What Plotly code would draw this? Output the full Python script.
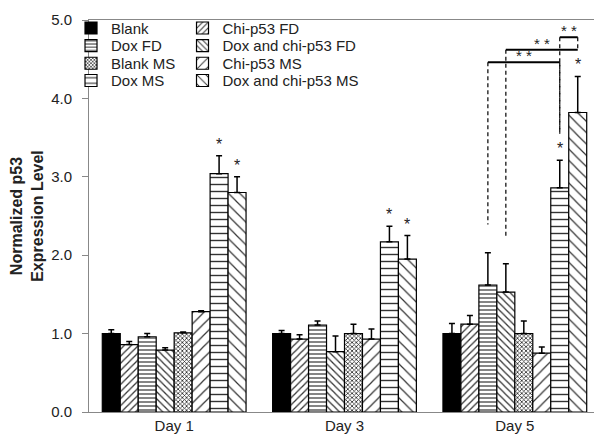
import plotly.graph_objects as go

days = ["Day 1", "Day 3", "Day 5"]
series_names = ["Blank", "Chi-p53 FD", "Dox FD", "Dox and chi-p53 FD",
                "Blank MS", "Chi-p53 MS", "Dox MS", "Dox and chi-p53 MS"]

blank = [1.00, 1.00, 1.00]
chi_fd = [0.86, 0.93, 1.12]
dox_fd = [0.96, 1.11, 1.62]
dox_chi_fd = [0.79, 0.77, 1.53]
blank_ms = [1.01, 1.00, 1.00]
chi_ms = [1.28, 0.93, 0.75]
dox_ms = [3.04, 2.17, 2.86]
dox_chi_ms = [2.80, 1.95, 3.82]

blank_err = [0.05, 0.04, 0.13]
chi_fd_err = [0.04, 0.055, 0.11]
dox_fd_err = [0.04, 0.05, 0.41]
dox_chi_fd_err = [0.03, 0.20, 0.36]
blank_ms_err = [0.01, 0.12, 0.16]
chi_ms_err = [0.01, 0.13, 0.08]
dox_ms_err = [0.23, 0.20, 0.35]
dox_chi_ms_err = [0.20, 0.30, 0.46]

values = [blank, chi_fd, dox_fd, dox_chi_fd, blank_ms, chi_ms, dox_ms, dox_chi_ms]
errors = [blank_err, chi_fd_err, dox_fd_err, dox_chi_fd_err,
          blank_ms_err, chi_ms_err, dox_ms_err, dox_chi_ms_err]

# significance stars: (day index, series index)
star_day = [0, 0, 1, 1, 2, 2]
star_series = [6, 7, 6, 7, 6, 7]

# comparison brackets on Day 5: (series a, series b, level)
bracket_a = [2, 3, 6]
bracket_b = [6, 7, 7]
bracket_level = [4.46, 4.62, 4.78]
# lower end of the dashed drop line for each series index
drop_end = {2: 2.39, 3: 2.22, 6: 3.55, 7: 4.62}

patterns = [
    dict(shape="", fg="black", size=6, sol=0.3),
    dict(shape="/", fg="#333", size=5, sol=0.25),
    dict(shape="-", fg="#333", size=4, sol=0.3),
    dict(shape="\\", fg="#333", size=5, sol=0.25),
    dict(shape="x", fg="#222", size=3, sol=0.45),
    dict(shape="/", fg="#333", size=8, sol=0.15),
    dict(shape="-", fg="#333", size=7, sol=0.2),
    dict(shape="\\", fg="#333", size=8, sol=0.15),
]

# legend grid: two columns, four rows (row-wise fill like the original)
legend_col_x = [-0.0352, 0.183]
legend_row_y = [0.979, 0.934, 0.889, 0.845]

fig = go.Figure()
legend_layout = {}
for i, name in enumerate(series_names):
    p = patterns[i]
    marker = dict(color="black" if i == 0 else "white",
                  line=dict(color="black", width=1.2))
    if p["shape"]:
        marker["pattern"] = dict(shape=p["shape"], fgcolor=p["fg"], bgcolor="white",
                                 size=p["size"], solidity=p["sol"], fillmode="replace")
    lid = "legend" if i == 0 else f"legend{i + 1}"
    fig.add_trace(go.Bar(
        x=days, y=values[i], name=name, marker=marker, showlegend=True,
        error_y=dict(type="data", array=errors[i], arrayminus=[0] * len(days),
                     symmetric=False, color="black", thickness=1.5, width=3),
        legend=lid,
    ))
    legend_layout[lid] = dict(x=legend_col_x[i % 2], y=legend_row_y[i // 2],
                              xanchor="left", yanchor="middle",
                              bgcolor="rgba(0,0,0,0)", font=dict(size=15),
                              itemwidth=30)

bargap = 0.156
n = len(series_names)
bw = (1 - bargap) / n


def xpos(day, s):
    return day + (s - (n - 1) / 2) * bw


annotations = []
for d, s in zip(star_day, star_series):
    top = values[s][d] + errors[s][d]
    annotations.append(dict(x=xpos(d, s), y=top, text="*", showarrow=False,
                            yanchor="bottom", yshift=1,
                            font=dict(size=16, color="#222", family="Liberation Sans")))

shapes = []
for a, b, lev in zip(bracket_a, bracket_b, bracket_level):
    xa, xb = xpos(2, a), xpos(2, b)
    shapes.append(dict(type="line", x0=xa, x1=xb, y0=lev, y1=lev,
                       line=dict(color="black", width=2)))
    for s, xx in ((a, xa), (b, xb)):
        if drop_end[s] < lev:
            shapes.append(dict(type="line", x0=xx, x1=xx, y0=lev, y1=drop_end[s],
                               line=dict(color="black", width=1.2, dash="4px,3px")))
    annotations.append(dict(x=(xa + xb) / 2, y=lev, text="* *", showarrow=False,
                            yanchor="bottom", yshift=-4,
                            font=dict(size=15, color="#222", family="Liberation Sans")))

fig.update_layout(
    width=602, height=436, showlegend=True,
    margin=dict(l=81, r=10, t=12, b=32, autoexpand=False),
    paper_bgcolor="white", plot_bgcolor="white",
    barmode="group", bargap=bargap, bargroupgap=0,
    font=dict(family="Liberation Sans, Arial, sans-serif", size=15, color="#222"),
    shapes=shapes, annotations=annotations,
    xaxis=dict(showline=True, linecolor="#888", linewidth=1, mirror=True,
               ticks="", tickfont=dict(size=15), automargin=False),
    yaxis=dict(range=[0, 5], dtick=1, tickformat=".1f", showgrid=False,
               showline=True, linecolor="#888", linewidth=1, mirror=True,
               ticks="outside", ticklen=6, tickcolor="#888", zeroline=False,
               tickfont=dict(size=15), ticklabelstandoff=7, automargin=False,
               title=dict(text="<b>Normalized p53<br>Expression Level</b>",
                          font=dict(size=16), standoff=4)),
    **legend_layout,
)

fig.write_html("out.html")
